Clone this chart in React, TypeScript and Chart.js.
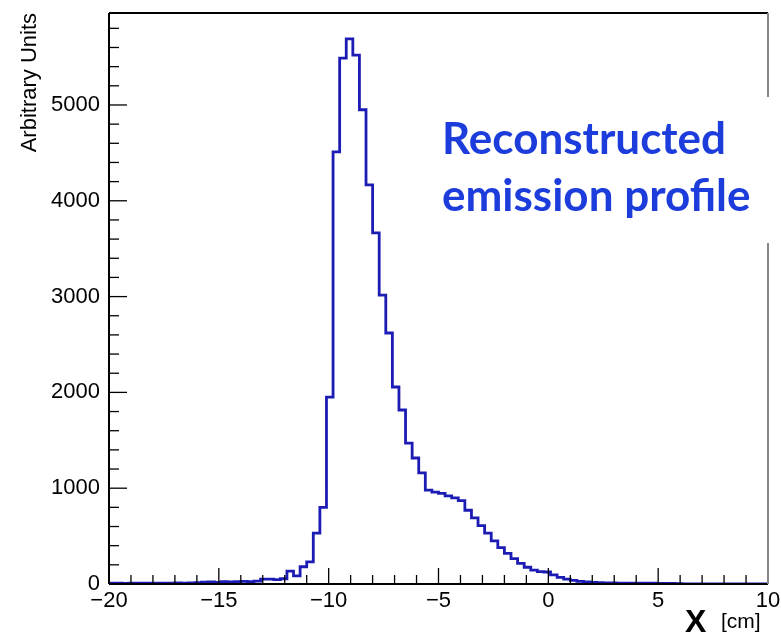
import React, { useEffect, useRef } from 'react';
import { Chart, registerables } from 'chart.js';

Chart.register(...registerables);

// Axis ranges
const X_MIN = -20;
const X_MAX = 10;
const Y_MAX = 5960;
const BIN_WIDTH = 0.3;

// Histogram bin contents (100 bins of 0.3 cm from -20 to 10)
const counts: number[] = [
  8, 8, 6, 8, 10, 8, 10, 10, 8, 10,
  12, 10, 12, 15, 20, 22, 18, 25, 22, 25,
  28, 25, 30, 50, 50, 45, 55, 135, 85, 180,
  230, 530, 800, 1950, 4510, 5490, 5690, 5520, 4950, 4165,
  3664, 3015, 2620, 2056, 1816, 1470, 1315, 1160, 980, 960,
  945, 920, 900, 870, 770, 690, 610, 530, 450, 380,
  320, 265, 215, 175, 145, 130, 125, 95, 70, 50,
  38, 28, 22, 18, 15, 12, 12, 10, 10, 8,
  10, 8, 8, 6, 6, 5, 3, 2, 2, 1,
  1, 0, 0, 0, 0, 0, 0, 0, 0, 0,
];

// Tick settings
const X_MAJOR_TICKS = [-20, -15, -10, -5, 0, 5, 10];
const Y_MAJOR_TICKS = [0, 1000, 2000, 3000, 4000, 5000];
const X_MINOR_STEP = 1;
const Y_MINOR_STEP = 200;

const Y_TITLE = 'Arbitrary Units';
const X_TITLE = 'X';
const X_UNIT = '[cm]';
const NOTE_LINES = ['Reconstructed', 'emission profile'];

const LINE_COLOR = '#1c1cb4';
const NOTE_COLOR = '#1c3cdc';

const fmt = (v: number) => (v < 0 ? '\u2212' + Math.abs(v) : String(v));

const decorPlugin = {
  id: 'decor',
  afterDraw(chart: any) {
    const { ctx, chartArea } = chart;
    const { left, right, top, bottom } = chartArea;
    const xs = chart.scales.x;
    const ys = chart.scales.y;
    ctx.save();
    // minor / major ticks inside the frame
    ctx.strokeStyle = '#000';
    ctx.lineWidth = 1.3;
    for (let v = X_MIN; v <= X_MAX + 1e-9; v += X_MINOR_STEP) {
      const px = xs.getPixelForValue(v);
      const major = X_MAJOR_TICKS.includes(Math.round(v));
      ctx.beginPath();
      ctx.moveTo(px, bottom);
      ctx.lineTo(px, bottom - (major ? 16 : 9));
      ctx.stroke();
    }
    for (let v = 0; v <= Y_MAX; v += Y_MINOR_STEP) {
      const py = ys.getPixelForValue(v);
      const major = Y_MAJOR_TICKS.includes(v);
      ctx.beginPath();
      ctx.moveTo(left, py);
      ctx.lineTo(left + (major ? 18 : 10), py);
      ctx.stroke();
    }
    // frame
    ctx.lineWidth = 2;
    ctx.strokeStyle = '#000';
    ctx.beginPath();
    ctx.moveTo(left, top);
    ctx.lineTo(right, top);
    ctx.moveTo(left, top);
    ctx.lineTo(left, bottom);
    ctx.moveTo(left, bottom);
    ctx.lineTo(right, bottom);
    ctx.stroke();
    ctx.strokeStyle = '#888';
    ctx.beginPath();
    ctx.moveTo(right, top);
    ctx.lineTo(right, bottom);
    ctx.stroke();

    // white box with annotation
    ctx.fillStyle = '#fff';
    ctx.fillRect(432, 97, 349, 146);
    ctx.fillStyle = NOTE_COLOR;
    ctx.font = 'bold 44px Lato';
    ctx.textAlign = 'left';
    ctx.textBaseline = 'alphabetic';
    ctx.fillText(NOTE_LINES[0], 442, 154);
    ctx.fillText(NOTE_LINES[1], 442, 211);

    // x axis title
    ctx.fillStyle = '#000';
    ctx.font = 'bold 32px "Liberation Sans"';
    ctx.fillText(X_TITLE, 685, 632);
    ctx.font = '21px "Liberation Sans"';
    ctx.fillText(X_UNIT, 721, 628);
    ctx.restore();
  },
};

export default function App() {
  const ref = useRef<HTMLCanvasElement>(null);
  useEffect(() => {
    document.body.style.margin = '0';
    const points = counts.map((c, i) => ({ x: X_MIN + i * BIN_WIDTH, y: c }));
    points.push({ x: X_MAX, y: counts[counts.length - 1] });
    const chart = new Chart(ref.current as HTMLCanvasElement, {
      type: 'line',
      data: {
        datasets: [
          {
            data: points,
            stepped: 'before',
            borderColor: LINE_COLOR,
            borderWidth: 2.8,
            pointRadius: 0,
            fill: false,
          },
        ],
      },
      options: {
        animation: false,
        responsive: false,
        maintainAspectRatio: false,
        layout: { padding: { top: 13, right: 13, left: 0, bottom: 0 } },
        plugins: { legend: { display: false }, tooltip: { enabled: false } },
        scales: {
          x: {
            type: 'linear',
            min: X_MIN,
            max: X_MAX,
            grid: { display: false, drawTicks: false },
            border: { display: false },
            afterBuildTicks: (s: any) => {
              s.ticks = X_MAJOR_TICKS.map((v) => ({ value: v }));
            },
            ticks: {
              autoSkip: false,
              maxRotation: 0,
              padding: 4,
              color: '#000',
              font: { family: '"Liberation Sans"', size: 22 },
              callback: (v: any) => fmt(Number(v)),
            },
            afterFit: (s: any) => {
              s.height = 52;
              s.paddingLeft = 0;
              s.paddingRight = 0;
            },
          },
          y: {
            min: 0,
            max: Y_MAX,
            grid: { display: false, drawTicks: false },
            border: { display: false },
            afterBuildTicks: (s: any) => {
              s.ticks = Y_MAJOR_TICKS.map((v) => ({ value: v }));
            },
            ticks: {
              autoSkip: false,
              padding: 9,
              color: '#000',
              font: { family: '"Liberation Sans"', size: 22 },
              callback: (v: any) => String(v),
            },
            title: {
              display: true,
              text: Y_TITLE,
              align: 'end',
              color: '#000',
              font: { family: '"Liberation Sans"', size: 22 },
              padding: { top: 17, bottom: 0 },
            },
            afterFit: (s: any) => {
              s.width = 109;
              s.paddingTop = 0;
              s.paddingBottom = 0;
            },
          },
        },
      },
      plugins: [decorPlugin],
    } as any);
    return () => chart.destroy();
  }, []);
  return (
    <div style={{ width: 781, height: 636 }}>
      <canvas ref={ref} width={781} height={636} style={{ display: 'block' }} />
    </div>
  );
}
